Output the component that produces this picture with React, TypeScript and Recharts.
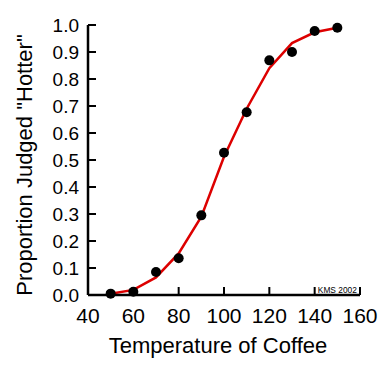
import React from 'react';
import { ComposedChart, Line, Scatter, XAxis, YAxis, Label, ReferenceDot } from 'recharts';

const temperatures = [50, 60, 70, 80, 90, 100, 110, 120, 130, 140, 150];
const observedProportion = [0.005, 0.012, 0.085, 0.136, 0.295, 0.527, 0.677, 0.869, 0.9, 0.978, 0.99];
const fittedProportion = [0.005, 0.019, 0.065, 0.154, 0.29, 0.512, 0.69, 0.84, 0.933, 0.973, 0.99];
const xTicks = [40, 60, 80, 100, 120, 140, 160];
const yTicks = [0, 0.1, 0.2, 0.3, 0.4, 0.5, 0.6, 0.7, 0.8, 0.9, 1.0];
const xTitle = 'Temperature of Coffee';
const yTitle = 'Proportion Judged "Hotter"';
const credit = 'KMS 2002';

const data = temperatures.map((t, i) => ({
  temp: t,
  observed: observedProportion[i],
  fitted: fittedProportion[i],
}));

const FONT = '"Liberation Sans", Arial, Helvetica, sans-serif';

const XTitle = (props: any) => {
  const vb = props.viewBox || {};
  return (
    <text x={vb.x + vb.width / 2 - 6} y={vb.y + 58} textAnchor="middle" fontSize={22} fontFamily={FONT} fill="#000">
      {xTitle}
    </text>
  );
};

const YTitle = (props: any) => {
  const vb = props.viewBox || {};
  const cx = vb.x + 32;
  const cy = vb.y + vb.height / 2 + 5;
  return (
    <text x={cx} y={cy} transform={`rotate(-90, ${cx}, ${cy})`} textAnchor="middle" fontSize={22} fontFamily={FONT} fill="#000">
      {yTitle}
    </text>
  );
};

const CreditLabel = (props: any) => {
  const vb = props.viewBox || {};
  return (
    <text x={vb.x} y={vb.y + 3.5} textAnchor="middle" fontSize={9} fontFamily={FONT} fill="#000" textLength={39} lengthAdjust="spacingAndGlyphs">
      {credit}
    </text>
  );
};

const Dot = (props: any) => <circle cx={props.cx} cy={props.cy} r={5} fill="#000" />;

export default function App() {
  return (
    <div style={{ position: 'absolute', left: 0, top: 0, width: 382, height: 384 }}>
      <ComposedChart width={382} height={384} data={data} margin={{ top: 25, right: 22, bottom: 0, left: 0 }}>
        <XAxis
          dataKey="temp"
          type="number"
          domain={[40, 160]}
          ticks={xTicks}
          interval={0}
          height={89}
          axisLine={{ stroke: '#000', strokeWidth: 2.5 }}
          tickLine={{ stroke: '#000', strokeWidth: 2 }}
          tickSize={-8}
          tickMargin={21}
          tick={{ fill: '#000', fontSize: 21, fontFamily: FONT }}
        >
          <Label content={XTitle} />
        </XAxis>
        <YAxis
          type="number"
          domain={[0, 1]}
          ticks={yTicks}
          interval={0}
          width={88}
          tickFormatter={(v: number) => v.toFixed(1)}
          axisLine={{ stroke: '#000', strokeWidth: 2.5 }}
          tickLine={{ stroke: '#000', strokeWidth: 2 }}
          tickSize={-8}
          tickMargin={17}
          tick={{ fill: '#000', fontSize: 19, fontFamily: FONT }}
        >
          <Label content={YTitle} />
        </YAxis>
        <Scatter dataKey="observed" shape={Dot} isAnimationActive={false} />
        <Line dataKey="fitted" type="linear" stroke="#dd0000" strokeWidth={2.5} dot={false} isAnimationActive={false} />
        <ReferenceDot x={150} y={0.02} r={0} stroke="none" fill="none" label={<CreditLabel />} />
      </ComposedChart>
    </div>
  );
}
